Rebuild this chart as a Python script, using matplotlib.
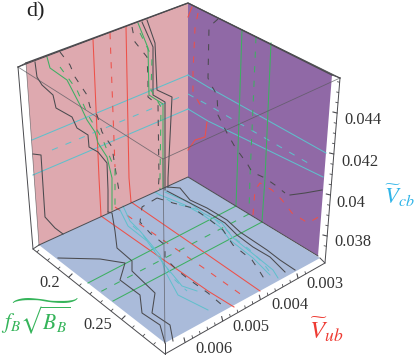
import matplotlib
matplotlib.use('Agg')
import matplotlib.pyplot as plt
import numpy as np

plt.rcParams['font.family'] = ['Liberation Serif', 'DejaVu Serif']
plt.rcParams['mathtext.fontset'] = 'stix'

PINK = '#DEA9AF'
PURPLE = '#9069A6'
FLOOR = '#AABBDA'
RED = '#EE5048'
GREEN = '#3DAF62'
CYAN = '#5FC0CC'
DARK = '#4A4A4E'

# faces
pink_face = [(26, 63), (188, 3), (188, 177), (39, 245)]
purple_face = [(188, 3), (332, 75), (318, 256), (188, 177)]
floor_face = [(39, 245), (188, 177), (320, 258), (165, 343)]

# box wires
box_edges = [
    [(18, 67), (188, 3), (340, 78)],
    [(18, 67), (33, 249), (165, 354), (325, 263), (340, 78)],
    [(33, 249), (39, 245)],
    [(165, 354), (165, 343)],
    [(325, 263), (320, 258)],
    [(332, 75), (340, 78)],
    [(18, 67), (26, 63)],
]
front_wires = [
    [(18, 67), (163, 159), (340, 78)],
    [(163, 159), (165, 343)],
]

# pink wall
pink_red = [[(93, 39), (99, 178), (101, 216)], [(126, 27), (129, 178), (131, 202)]]
pink_red_dash = [[(110, 33), (115, 167)]]
pink_cyan = [[(32, 140), (188, 75)], [(33, 175), (188, 109)]]
pink_cyan_dash = [[(52, 150), (180, 97)]]
pink_green = [
    [(47, 57), (50, 68), (67, 80), (80, 105), (87, 120), (95, 132), (98, 143), (107, 157), (112, 178), (112, 210)],
    [(138, 23), (148, 48), (149, 95), (163, 104), (163, 178), (163, 188)],
]
pink_green_dash = [
    [(60, 67), (77, 90), (88, 115), (103, 140), (115, 170), (115, 210)],
    [(140, 33), (152, 57), (151, 90), (161, 107), (160, 178), (160, 190)],
]
pink_black = [
    [(35, 62), (37, 77), (42, 85), (53, 95), (56, 108), (72, 117), (77, 128), (88, 135), (89, 147), (98, 152), (107, 163), (108, 190), (108, 212)],
    [(147, 20), (155, 43), (157, 90), (172, 97), (168, 178), (168, 187)],
    [(142, 22), (153, 47), (153, 95), (165, 102), (165, 190)],
    [(33, 154), (41, 155), (45, 217), (55, 228), (63, 234)],
]
pink_black_dash = [
    [(60, 52), (70, 65), (75, 77), (87, 95), (90, 107), (97, 115), (102, 132), (112, 147), (115, 167), (120, 197)],
    [(132, 27), (135, 42), (147, 57), (148, 78), (148, 97), (158, 105), (159, 178), (158, 192)],
]

# purple wall
purple_green = [[(242, 30), (237, 178), (236, 206)], [(271, 43), (265, 178), (262, 222)]]
purple_green_dash = [[(256, 37), (250, 177), (249, 212)]]
purple_cyan = [[(188, 75), (208, 87), (326, 153)], [(188, 109), (208, 121), (323, 177)]]
purple_cyan_dash = [[(188, 94), (208, 105), (308, 163)]]
purple_red = [[(192, 7), (188, 17)], [(207, 122), (205, 137), (195, 140), (188, 150)]]
purple_red_dash = [
    [(198, 13), (195, 28), (193, 72), (193, 92), (202, 108)],
    [(253, 215), (255, 190), (260, 183), (272, 190), (282, 200), (292, 213), (308, 223), (322, 215)],
]
purple_black = [[(290, 195), (305, 193), (322, 190)]]
purple_black_dash = [
    [(218, 19), (209, 27), (208, 78), (210, 83), (217, 95), (218, 115), (222, 123), (227, 133), (235, 147), (248, 165), (252, 172), (265, 178), (275, 185), (285, 193)],
]

# floor
floor_red = [[(131, 202), (208, 255), (260, 291)], [(101, 216), (208, 291), (234, 307)]]
floor_red_dash = [[(115, 207), (208, 271), (246, 298)]]
floor_green = [[(236, 206), (88, 283)], [(262, 222), (113, 301)]]
floor_green_dash = [[(249, 214), (100, 292)]]
floor_cyan = [
    [(165, 192), (190, 203), (203, 213), (222, 223), (232, 237), (257, 257), (273, 270), (278, 278)],
    [(160, 195), (185, 205), (203, 215), (220, 227), (230, 240), (253, 258), (270, 275)],
    [(123, 206), (130, 221), (140, 231), (160, 255), (165, 271), (178, 295), (208, 310)],
    [(120, 210), (128, 226), (147, 241), (163, 263), (173, 275), (182, 286), (197, 291)],
]
floor_cyan_dash = [
    [(155, 192), (173, 203), (207, 212), (237, 240), (250, 250), (263, 263), (272, 275)],
    [(133, 226), (143, 235), (160, 258), (175, 280), (187, 291)],
]
floor_black = [
    [(58, 258), (100, 259), (125, 263), (120, 280), (140, 295), (142, 313), (160, 325), (165, 343)],
    [(108, 212), (112, 213), (115, 231), (117, 248), (132, 261), (132, 271), (155, 293), (152, 313), (170, 325), (173, 341)],
    [(167, 187), (180, 188), (190, 200), (207, 208), (227, 220), (240, 232), (267, 250), (280, 260), (295, 270)],
    [(167, 191), (190, 203), (207, 212), (225, 223), (237, 235), (253, 247), (270, 257), (285, 272)],
]
floor_black_dash = [
    [(157, 198), (142, 207), (140, 222), (150, 233), (165, 245), (165, 258), (177, 270), (187, 278), (208, 293), (222, 305)],
    [(157, 198), (173, 203), (193, 208), (210, 220), (223, 230), (233, 245), (252, 260), (260, 272), (265, 280)],
]

# axis values and where two of them sit on the outer edges
ub_anchor_vals = [0.003, 0.006]
ub_anchor_px = [(298, 278), (185, 342)]
ub_major = [0.003, 0.004, 0.005, 0.006]
ub_minor = [0.0028, 0.0032, 0.0034, 0.0036, 0.0038, 0.0042, 0.0044, 0.0046, 0.0048, 0.0052, 0.0054, 0.0056, 0.0058]
ub_labels = ['0.003', '0.004', '0.005', '0.006']
ub_label_pos = [(325, 284), (290, 305), (251, 327), (214, 349)]

f_anchor_vals = [0.2, 0.25]
f_anchor_px = [(69, 277), (122, 319)]
f_major = [0.2, 0.25]
f_minor = [0.17, 0.18, 0.19, 0.21, 0.22, 0.23, 0.24, 0.26, 0.27, 0.28]
f_labels = ['0.2', '0.25']
f_label_pos = [(50, 283), (98, 325)]

cb_anchor_vals = [0.044, 0.038]
cb_anchor_px = [(337, 113), (327, 236)]
cb_major = [0.044, 0.042, 0.04, 0.038]
cb_minor = [0.0375, 0.0385, 0.039, 0.0395, 0.0405, 0.041, 0.0415, 0.0425, 0.043, 0.0435, 0.0445, 0.045, 0.0455]
cb_labels = ['0.044', '0.042', '0.04', '0.038']
cb_label_pos = [(363, 120), (360, 162), (351, 203), (353, 242)]

fig = plt.figure(figsize=(4.15, 3.56), dpi=100)
ax = fig.add_axes([0, 0, 1, 1])
ax.set_xlim(0, 415)
ax.set_ylim(356, 0)
ax.axis('off')


def draw(paths, color, lw=0.75, dashed=False, alpha=1.0):
    for path in paths:
        xs = [p[0] for p in path]
        ys = [p[1] for p in path]
        ls = (0, (6, 8)) if dashed else '-'
        ax.plot(xs, ys, color=color, lw=lw, ls=ls, alpha=alpha, solid_joinstyle='round')


def draw_ticks(values, vals, px, dx, dy, lw):
    # edge position is linear in the axis value
    t = (np.array(values) - vals[0]) / (vals[1] - vals[0])
    xs = px[0][0] + t * (px[1][0] - px[0][0])
    ys = px[0][1] + t * (px[1][1] - px[0][1])
    for x, y in zip(xs, ys):
        ax.plot([x, x + dx], [y, y + dy], color=DARK, lw=lw)


for face, color in [(pink_face, PINK), (purple_face, PURPLE), (floor_face, FLOOR)]:
    ax.fill([p[0] for p in face], [p[1] for p in face], color=color, lw=0)

draw(pink_cyan, CYAN)
draw(pink_cyan_dash, CYAN, dashed=True)
draw(pink_red, RED)
draw(pink_red_dash, RED, dashed=True)
draw(pink_black, DARK)
draw(pink_black_dash, DARK, dashed=True)
draw(pink_green, GREEN)
draw(pink_green_dash, GREEN, dashed=True)

draw(purple_cyan, CYAN)
draw(purple_cyan_dash, CYAN, dashed=True)
draw(purple_green, GREEN)
draw(purple_green_dash, GREEN, dashed=True)
draw(purple_red, RED)
draw(purple_red_dash, RED, dashed=True)
draw(purple_black, DARK)
draw(purple_black_dash, DARK, dashed=True)

draw(floor_red, RED)
draw(floor_red_dash, RED, dashed=True)
draw(floor_green, GREEN)
draw(floor_green_dash, GREEN, dashed=True)
draw(floor_cyan, CYAN, lw=0.7)
draw(floor_cyan_dash, CYAN, lw=0.7, dashed=True)
draw(floor_black, DARK)
draw(floor_black_dash, DARK, dashed=True)

draw(front_wires, '#5A5A60', lw=0.6, alpha=0.75)
draw(box_edges, DARK, lw=0.7)
ax.plot([26, 188, 332], [63, 3, 75], color=DARK, lw=1.0)
ax.plot([39, 188, 318], [245, 177, 256], color=DARK, lw=0.7)
ax.plot([26, 39], [63, 245], color=DARK, lw=0.5, alpha=0.7)

draw_ticks(ub_major, ub_anchor_vals, ub_anchor_px, -1, -4, 0.8)
draw_ticks(ub_minor, ub_anchor_vals, ub_anchor_px, -0.5, -2, 0.6)
draw_ticks(f_major, f_anchor_vals, f_anchor_px, 3, -3, 0.8)
draw_ticks(f_minor, f_anchor_vals, f_anchor_px, 1.5, -1.5, 0.6)
draw_ticks(cb_major, cb_anchor_vals, cb_anchor_px, -4, -1, 0.8)
draw_ticks(cb_minor, cb_anchor_vals, cb_anchor_px, -2, -0.5, 0.6)

text_color = '#333333'
for labels, pos in [(ub_labels, ub_label_pos), (f_labels, f_label_pos), (cb_labels, cb_label_pos)]:
    for s, (x, y) in zip(labels, pos):
        ax.text(x, y, s, fontsize=11.8, color=text_color, ha='center', va='center')

ax.text(35, 12, 'd)', fontsize=16, color='#222222', ha='center', va='center')
ax.text(399, 196, r'$\widetilde{V}_{cb}$', fontsize=16.5, color='#2FB4E8', ha='center', va='center')
ax.text(326, 330, r'$\widetilde{V}_{ub}$', fontsize=18, color='#EE3B33', ha='center', va='center')
ax.text(1, 317, r'$\widetilde{f_B\sqrt{B_B}}$', fontsize=15.5, color='#35B45A', ha='left', va='center')

fig.savefig('out.png', dpi=100)
